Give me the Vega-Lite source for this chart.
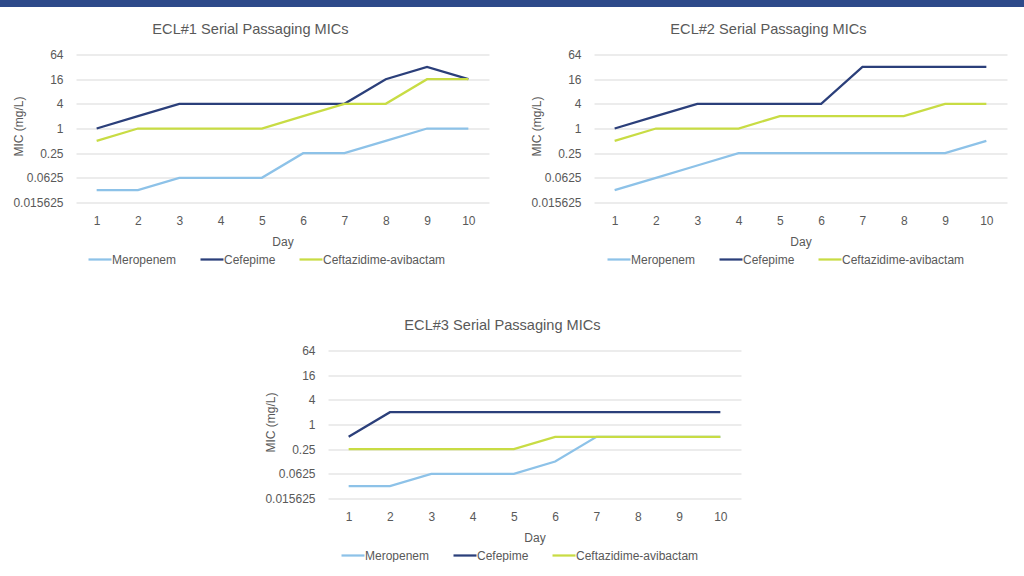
{
  "$schema": "https://vega.github.io/schema/vega-lite/v6.json",
  "padding": 0,
  "background": "white",
  "config": {
    "font": "Liberation Sans",
    "view": {"stroke": null},
    "title": {"font": "Liberation Sans", "fontSize": 14.6, "fontWeight": "normal", "color": "#595959", "baseline": "alphabetic", "offset": 12, "anchor": "middle", "frame": "bounds"},
    "axis": {"labelFont": "Liberation Sans", "titleFont": "Liberation Sans", "labelFontSize": 12, "titleFontSize": 12, "labelColor": "#595959", "titleColor": "#595959", "titleFontWeight": "normal", "ticks": false, "domain": false},
    "legend": {"labelFont": "Liberation Sans", "labelFontSize": 12, "labelColor": "#595959"}
  },
  "datasets": {
    "ecl1": [
      {"Day": 1, "Drug": "Meropenem", "MIC": 0.03125},
      {"Day": 2, "Drug": "Meropenem", "MIC": 0.03125},
      {"Day": 3, "Drug": "Meropenem", "MIC": 0.0625},
      {"Day": 4, "Drug": "Meropenem", "MIC": 0.0625},
      {"Day": 5, "Drug": "Meropenem", "MIC": 0.0625},
      {"Day": 6, "Drug": "Meropenem", "MIC": 0.25},
      {"Day": 7, "Drug": "Meropenem", "MIC": 0.25},
      {"Day": 8, "Drug": "Meropenem", "MIC": 0.5},
      {"Day": 9, "Drug": "Meropenem", "MIC": 1},
      {"Day": 10, "Drug": "Meropenem", "MIC": 1},
      {"Day": 1, "Drug": "Cefepime", "MIC": 1},
      {"Day": 2, "Drug": "Cefepime", "MIC": 2},
      {"Day": 3, "Drug": "Cefepime", "MIC": 4},
      {"Day": 4, "Drug": "Cefepime", "MIC": 4},
      {"Day": 5, "Drug": "Cefepime", "MIC": 4},
      {"Day": 6, "Drug": "Cefepime", "MIC": 4},
      {"Day": 7, "Drug": "Cefepime", "MIC": 4},
      {"Day": 8, "Drug": "Cefepime", "MIC": 16},
      {"Day": 9, "Drug": "Cefepime", "MIC": 32},
      {"Day": 10, "Drug": "Cefepime", "MIC": 16},
      {"Day": 1, "Drug": "Ceftazidime-avibactam", "MIC": 0.5},
      {"Day": 2, "Drug": "Ceftazidime-avibactam", "MIC": 1},
      {"Day": 3, "Drug": "Ceftazidime-avibactam", "MIC": 1},
      {"Day": 4, "Drug": "Ceftazidime-avibactam", "MIC": 1},
      {"Day": 5, "Drug": "Ceftazidime-avibactam", "MIC": 1},
      {"Day": 6, "Drug": "Ceftazidime-avibactam", "MIC": 2},
      {"Day": 7, "Drug": "Ceftazidime-avibactam", "MIC": 4},
      {"Day": 8, "Drug": "Ceftazidime-avibactam", "MIC": 4},
      {"Day": 9, "Drug": "Ceftazidime-avibactam", "MIC": 16},
      {"Day": 10, "Drug": "Ceftazidime-avibactam", "MIC": 16}
    ],
    "ecl2": [
      {"Day": 1, "Drug": "Meropenem", "MIC": 0.03125},
      {"Day": 2, "Drug": "Meropenem", "MIC": 0.0625},
      {"Day": 3, "Drug": "Meropenem", "MIC": 0.125},
      {"Day": 4, "Drug": "Meropenem", "MIC": 0.25},
      {"Day": 5, "Drug": "Meropenem", "MIC": 0.25},
      {"Day": 6, "Drug": "Meropenem", "MIC": 0.25},
      {"Day": 7, "Drug": "Meropenem", "MIC": 0.25},
      {"Day": 8, "Drug": "Meropenem", "MIC": 0.25},
      {"Day": 9, "Drug": "Meropenem", "MIC": 0.25},
      {"Day": 10, "Drug": "Meropenem", "MIC": 0.5},
      {"Day": 1, "Drug": "Cefepime", "MIC": 1},
      {"Day": 2, "Drug": "Cefepime", "MIC": 2},
      {"Day": 3, "Drug": "Cefepime", "MIC": 4},
      {"Day": 4, "Drug": "Cefepime", "MIC": 4},
      {"Day": 5, "Drug": "Cefepime", "MIC": 4},
      {"Day": 6, "Drug": "Cefepime", "MIC": 4},
      {"Day": 7, "Drug": "Cefepime", "MIC": 32},
      {"Day": 8, "Drug": "Cefepime", "MIC": 32},
      {"Day": 9, "Drug": "Cefepime", "MIC": 32},
      {"Day": 10, "Drug": "Cefepime", "MIC": 32},
      {"Day": 1, "Drug": "Ceftazidime-avibactam", "MIC": 0.5},
      {"Day": 2, "Drug": "Ceftazidime-avibactam", "MIC": 1},
      {"Day": 3, "Drug": "Ceftazidime-avibactam", "MIC": 1},
      {"Day": 4, "Drug": "Ceftazidime-avibactam", "MIC": 1},
      {"Day": 5, "Drug": "Ceftazidime-avibactam", "MIC": 2},
      {"Day": 6, "Drug": "Ceftazidime-avibactam", "MIC": 2},
      {"Day": 7, "Drug": "Ceftazidime-avibactam", "MIC": 2},
      {"Day": 8, "Drug": "Ceftazidime-avibactam", "MIC": 2},
      {"Day": 9, "Drug": "Ceftazidime-avibactam", "MIC": 4},
      {"Day": 10, "Drug": "Ceftazidime-avibactam", "MIC": 4}
    ],
    "ecl3": [
      {"Day": 1, "Drug": "Meropenem", "MIC": 0.03125},
      {"Day": 2, "Drug": "Meropenem", "MIC": 0.03125},
      {"Day": 3, "Drug": "Meropenem", "MIC": 0.0625},
      {"Day": 4, "Drug": "Meropenem", "MIC": 0.0625},
      {"Day": 5, "Drug": "Meropenem", "MIC": 0.0625},
      {"Day": 6, "Drug": "Meropenem", "MIC": 0.125},
      {"Day": 7, "Drug": "Meropenem", "MIC": 0.5},
      {"Day": 8, "Drug": "Meropenem", "MIC": 0.5},
      {"Day": 9, "Drug": "Meropenem", "MIC": 0.5},
      {"Day": 10, "Drug": "Meropenem", "MIC": 0.5},
      {"Day": 1, "Drug": "Cefepime", "MIC": 0.5},
      {"Day": 2, "Drug": "Cefepime", "MIC": 2},
      {"Day": 3, "Drug": "Cefepime", "MIC": 2},
      {"Day": 4, "Drug": "Cefepime", "MIC": 2},
      {"Day": 5, "Drug": "Cefepime", "MIC": 2},
      {"Day": 6, "Drug": "Cefepime", "MIC": 2},
      {"Day": 7, "Drug": "Cefepime", "MIC": 2},
      {"Day": 8, "Drug": "Cefepime", "MIC": 2},
      {"Day": 9, "Drug": "Cefepime", "MIC": 2},
      {"Day": 10, "Drug": "Cefepime", "MIC": 2},
      {"Day": 1, "Drug": "Ceftazidime-avibactam", "MIC": 0.25},
      {"Day": 2, "Drug": "Ceftazidime-avibactam", "MIC": 0.25},
      {"Day": 3, "Drug": "Ceftazidime-avibactam", "MIC": 0.25},
      {"Day": 4, "Drug": "Ceftazidime-avibactam", "MIC": 0.25},
      {"Day": 5, "Drug": "Ceftazidime-avibactam", "MIC": 0.25},
      {"Day": 6, "Drug": "Ceftazidime-avibactam", "MIC": 0.5},
      {"Day": 7, "Drug": "Ceftazidime-avibactam", "MIC": 0.5},
      {"Day": 8, "Drug": "Ceftazidime-avibactam", "MIC": 0.5},
      {"Day": 9, "Drug": "Ceftazidime-avibactam", "MIC": 0.5},
      {"Day": 10, "Drug": "Ceftazidime-avibactam", "MIC": 0.5}
    ],
    "bar": [{"k": 1}],
    "empty": []
  },
  "resolve": {"scale": {"color": "independent", "x": "independent", "y": "independent"}, "legend": {"color": "independent"}},
  "spacing": 14.5,
  "vconcat": [
    {
      "width": 1024, "height": 7,
      "data": {"name": "bar"},
      "mark": {"type": "rect", "color": "#2E4A8A"},
      "encoding": {}
    },
    {
      "spacing": 52,
      "resolve": {"scale": {"color": "independent", "x": "independent", "y": "independent"}, "legend": {"color": "independent"}},
      "vconcat": [
        {
          "spacing": 11,
          "resolve": {"scale": {"color": "independent", "x": "independent", "y": "independent"}, "legend": {"color": "independent"}},
          "hconcat": [
            {"width": 1, "height": 1, "data": {"name": "empty"}, "mark": "point", "encoding": {}},
            {
              "spacing": 41,
              "resolve": {"scale": {"color": "independent", "x": "independent", "y": "independent"}, "legend": {"color": "independent"}},
              "hconcat": [
                {
                  "width": 413, "height": 148,
                  "title": {"text": "ECL#1 Serial Passaging MICs"},
                  "data": {"name": "ecl1"},
                  "mark": {"type": "line", "strokeWidth": 2.25},
                  "encoding": {
                    "x": {"field": "Day", "type": "ordinal", "scale": {"type": "point", "padding": 0.5}, "axis": {"labelAngle": 0, "labelPadding": 13, "title": "Day", "titlePadding": 9.5, "grid": false}},
                    "y": {"field": "MIC", "type": "quantitative", "scale": {"type": "log", "base": 2, "domain": [0.015625, 64], "nice": false}, "axis": {"values": [0.015625, 0.0625, 0.25, 1, 4, 16, 64], "format": "~g", "grid": true, "gridColor": "#d9d9d9", "labelPadding": 13, "title": "MIC (mg/L)", "titleX": -54, "titleY": 71.5, "titleBaseline": "alphabetic", "titleAngle": 270, "titleAlign": "center"}},
                    "color": {"field": "Drug", "type": "nominal", "sort": null, "scale": {"domain": ["Meropenem", "Cefepime", "Ceftazidime-avibactam"], "range": ["#8DC2E8", "#2B3F7A", "#C8DC44"]}, "legend": {"orient": "none", "legendX": 11, "legendY": 192, "direction": "horizontal", "columns": 3, "title": null, "symbolType": "stroke", "symbolSize": 529, "symbolStrokeWidth": 2.25, "labelOffset": -1, "columnPadding": 19}}
                  }
                },
                {
                  "width": 413, "height": 148,
                  "title": {"text": "ECL#2 Serial Passaging MICs"},
                  "data": {"name": "ecl2"},
                  "mark": {"type": "line", "strokeWidth": 2.25},
                  "encoding": {
                    "x": {"field": "Day", "type": "ordinal", "scale": {"type": "point", "padding": 0.5}, "axis": {"labelAngle": 0, "labelPadding": 13, "title": "Day", "titlePadding": 9.5, "grid": false}},
                    "y": {"field": "MIC", "type": "quantitative", "scale": {"type": "log", "base": 2, "domain": [0.015625, 64], "nice": false}, "axis": {"values": [0.015625, 0.0625, 0.25, 1, 4, 16, 64], "format": "~g", "grid": true, "gridColor": "#d9d9d9", "labelPadding": 13, "title": "MIC (mg/L)", "titleX": -54, "titleY": 71.5, "titleBaseline": "alphabetic", "titleAngle": 270, "titleAlign": "center"}},
                    "color": {"field": "Drug", "type": "nominal", "sort": null, "scale": {"domain": ["Meropenem", "Cefepime", "Ceftazidime-avibactam"], "range": ["#8DC2E8", "#2B3F7A", "#C8DC44"]}, "legend": {"orient": "none", "legendX": 12, "legendY": 192, "direction": "horizontal", "columns": 3, "title": null, "symbolType": "stroke", "symbolSize": 529, "symbolStrokeWidth": 2.25, "labelOffset": -1, "columnPadding": 19}}
                  }
                }
              ]
            }
          ]
        },
        {
          "spacing": 10,
          "resolve": {"scale": {"color": "independent", "x": "independent", "y": "independent"}, "legend": {"color": "independent"}},
          "hconcat": [
            {"width": 254, "height": 1, "data": {"name": "empty"}, "mark": "point", "encoding": {}},
            {
              "width": 413, "height": 148,
              "title": {"text": "ECL#3 Serial Passaging MICs"},
              "data": {"name": "ecl3"},
              "mark": {"type": "line", "strokeWidth": 2.25},
              "encoding": {
                "x": {"field": "Day", "type": "ordinal", "scale": {"type": "point", "padding": 0.5}, "axis": {"labelAngle": 0, "labelPadding": 13, "title": "Day", "titlePadding": 9.5, "grid": false}},
                "y": {"field": "MIC", "type": "quantitative", "scale": {"type": "log", "base": 2, "domain": [0.015625, 64], "nice": false}, "axis": {"values": [0.015625, 0.0625, 0.25, 1, 4, 16, 64], "format": "~g", "grid": true, "gridColor": "#d9d9d9", "labelPadding": 13, "title": "MIC (mg/L)", "titleX": -54, "titleY": 71.5, "titleBaseline": "alphabetic", "titleAngle": 270, "titleAlign": "center"}},
                "color": {"field": "Drug", "type": "nominal", "sort": null, "scale": {"domain": ["Meropenem", "Cefepime", "Ceftazidime-avibactam"], "range": ["#8DC2E8", "#2B3F7A", "#C8DC44"]}, "legend": {"orient": "none", "legendX": 12, "legendY": 192, "direction": "horizontal", "columns": 3, "title": null, "symbolType": "stroke", "symbolSize": 529, "symbolStrokeWidth": 2.25, "labelOffset": -1, "columnPadding": 19}}
              }
            }
          ]
        }
      ]
    }
  ]
}
